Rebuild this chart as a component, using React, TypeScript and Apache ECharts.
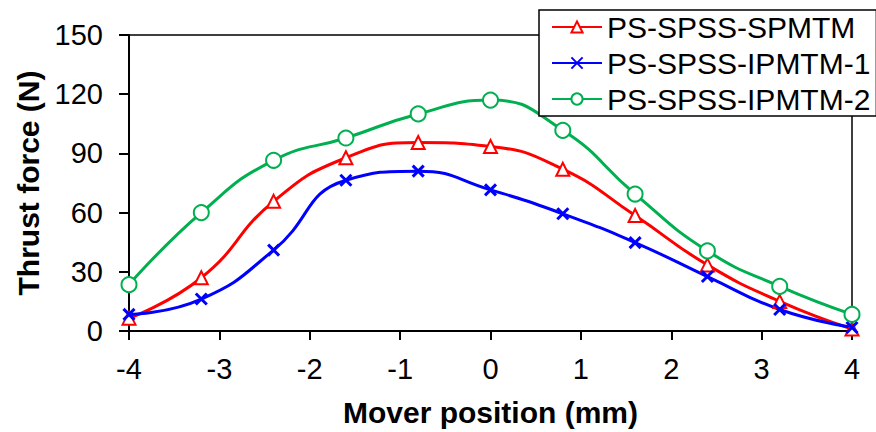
import React, { useEffect, useRef } from "react";
import * as echarts from "echarts";

const positions = [-4, -3.2, -2.4, -1.6, -0.8, 0, 0.8, 1.6, 2.4, 3.2, 4];
const spmtm = [6.5, 27, 65.7, 87.8, 95.5, 93.5, 82, 58.5, 33.5, 15, 1];
const ipmtm1 = [8.4, 16.2, 41, 76.4, 81, 71.5, 59.4, 44.8, 27.6, 10.9, 1.8];
const ipmtm2 = [23.5, 60, 86.5, 97.8, 110, 117, 101.7, 69.4, 40.6, 22.6, 8.4];
const seriesNames = ["PS-SPSS-SPMTM", "PS-SPSS-IPMTM-1", "PS-SPSS-IPMTM-2"];

const FONT = "Liberation Sans, Arial, sans-serif";

export default function App() {
  const ref = useRef<HTMLDivElement>(null);
  useEffect(() => {
    if (!ref.current) return;
    const chart = echarts.init(ref.current, null, { renderer: "svg" });
    const pair = (ys: number[]) => positions.map((x, i) => [x, ys[i]]);
    chart.setOption({
      animation: false,
      backgroundColor: "#ffffff",
      textStyle: { fontFamily: FONT },
      grid: {
        left: 129,
        top: 35,
        right: 24,
        bottom: 97,
        show: true,
        borderColor: "#000",
        borderWidth: 1.5,
        backgroundColor: "transparent",
      },
      legend: {
        orient: "vertical",
        left: 539,
        top: 10,
        backgroundColor: "#ffffff",
        borderColor: "#000",
        borderWidth: 1.5,
        borderRadius: 0,
        padding: [2, 6, 2, 12],
        itemGap: 6,
        itemWidth: 50,
        itemHeight: 14,
        textStyle: { fontSize: 30, color: "#000", fontFamily: FONT, lineHeight: 28 },
        data: seriesNames,
      },
      xAxis: {
        type: "value",
        min: -4,
        max: 4,
        interval: 1,
        name: "Mover position (mm)",
        nameLocation: "middle",
        nameGap: 66,
        nameTextStyle: { fontSize: 30, fontWeight: "bold", color: "#000", fontFamily: FONT },
        axisLine: { onZero: false, lineStyle: { color: "#000", width: 2 } },
        axisTick: { show: true, length: 9, lineStyle: { color: "#000", width: 2 } },
        axisLabel: { fontSize: 29, color: "#000", margin: 23, fontFamily: FONT },
        splitLine: { show: false },
      },
      yAxis: {
        type: "value",
        min: 0,
        max: 150,
        interval: 30,
        name: "Thrust force (N)",
        nameLocation: "middle",
        nameGap: 86,
        nameTextStyle: { fontSize: 30, fontWeight: "bold", color: "#000", fontFamily: FONT },
        axisLine: { show: true, onZero: false, lineStyle: { color: "#000", width: 2 } },
        axisTick: { show: true, length: 10, lineStyle: { color: "#000", width: 2 } },
        axisLabel: { fontSize: 29, color: "#000", margin: 26, fontFamily: FONT },
        splitLine: { show: false },
      },
      series: [
        {
          name: seriesNames[0],
          type: "line",
          smooth: 0.5,
          data: pair(spmtm),
          symbol: "emptyTriangle",
          symbolSize: 13,
          lineStyle: { color: "#ff0000", width: 3 },
          itemStyle: { color: "#ff0000", borderColor: "#ff0000", borderWidth: 2.5 },
        },
        {
          name: seriesNames[1],
          type: "line",
          smooth: 0.5,
          data: pair(ipmtm1),
          symbol: "path://M0,0L10,10M10,0L0,10",
          symbolSize: 11,
          lineStyle: { color: "#0000ff", width: 3 },
          itemStyle: { color: "#0000ff", borderColor: "#0000ff", borderWidth: 3 },
        },
        {
          name: seriesNames[2],
          type: "line",
          smooth: 0.5,
          data: pair(ipmtm2),
          symbol: "emptyCircle",
          symbolSize: 15,
          lineStyle: { color: "#00b050", width: 3 },
          itemStyle: { color: "#00b050", borderColor: "#00b050", borderWidth: 2.5 },
        },
      ],
    });
    return () => chart.dispose();
  }, []);
  return (
    <div
      ref={ref}
      style={{ position: "fixed", left: 0, top: 0, width: 876, height: 432, background: "#fff" }}
    />
  );
}
